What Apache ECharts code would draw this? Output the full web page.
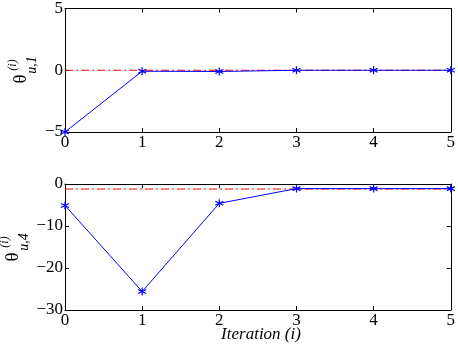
<!DOCTYPE html>
<html><head><meta charset="utf-8">
<script src="https://cdn.jsdelivr.net/npm/echarts@6/dist/echarts.min.js"></script>
<style>html,body{margin:0;padding:0;background:#fff}#c{width:458px;height:348px}</style>
</head><body><div id="c"></div>
<script>
const iterations = [0, 1, 2, 3, 4, 5];
const thetaU1 = [-5, -0.08, -0.1, 0, 0, 0];
const thetaU4 = [-5.1, -25.6, -4.6, -1.1, -1.1, -1.1];
const refU1 = 0;
const refU4 = -1.2;
const xTicks = {min: 0, max: 5, interval: 1};
const yTicksTop = {min: -5, max: 5, interval: 5};
const yTicksBot = {min: -30, max: 0, interval: 10};

const font = 'Liberation Serif';
const fmt = v => String(v).replace('-', '\u2212');
const star = 'path://M0,-4L0,4M-3.5,-2L3.5,2M-3.5,2L3.5,-2';
const lbl = labels => ({show: labels, color: '#000', fontFamily: font, fontSize: 17, margin: 2, formatter: fmt});

function xAx(grid, pos, labels) {
  return {type: 'value', gridIndex: grid, position: pos, min: xTicks.min, max: xTicks.max, interval: xTicks.interval,
    axisLine: {show: true, onZero: false, lineStyle: {color: '#000', width: 1}},
    axisTick: {show: true, inside: true, length: 4, lineStyle: {color: '#000'}},
    axisLabel: lbl(labels), splitLine: {show: false}};
}
function yAx(grid, pos, t, labels) {
  return {type: 'value', gridIndex: grid, position: pos, min: t.min, max: t.max, interval: t.interval,
    axisLine: {show: true, onZero: false, lineStyle: {color: '#000', width: 1}},
    axisTick: {show: true, inside: true, length: 4, lineStyle: {color: '#000'}},
    axisLabel: lbl(labels), splitLine: {show: false}};
}
function pts(arr) { return iterations.map((x, i) => [x, arr[i]]); }
function refPts(v) { return iterations.map(x => [x, v]); }
function rt(text, x, y, f) {
  return {type: 'text', x: x, y: y, rotation: Math.PI / 2,
    style: {text: text, font: f, fill: '#000', textAlign: 'center', textVerticalAlign: 'middle'}};
}
const thF = "19px 'Liberation Serif'", supF = "italic 12px 'Liberation Serif'", subF = "italic 14px 'Liberation Serif'";

const chart = echarts.init(document.getElementById('c'));
chart.setOption({
  animation: false,
  textStyle: {fontFamily: font},
  grid: [
    {left: 65, right: 4, top: 7, height: 125},
    {left: 65, right: 4, top: 184, height: 126}
  ],
  xAxis: [xAx(0, 'bottom', true), xAx(0, 'top', false), xAx(1, 'bottom', true), xAx(1, 'top', false)],
  yAxis: [yAx(0, 'left', yTicksTop, true), yAx(0, 'right', yTicksTop, false), yAx(1, 'left', yTicksBot, true), yAx(1, 'right', yTicksBot, false)],
  series: [
    {type: 'line', xAxisIndex: 0, yAxisIndex: 0, data: refPts(refU1), symbol: 'none',
      lineStyle: {color: '#f00', width: 1, type: [8, 3, 2, 3]}},
    {type: 'line', xAxisIndex: 0, yAxisIndex: 0, data: pts(thetaU1), symbol: star, symbolSize: 8,
      lineStyle: {color: '#00f', width: 1}, itemStyle: {color: 'none', borderColor: '#00f', borderWidth: 1.2}},
    {type: 'line', xAxisIndex: 2, yAxisIndex: 2, data: refPts(refU4), symbol: 'none',
      lineStyle: {color: '#f00', width: 1, type: [8, 3, 2, 3]}},
    {type: 'line', xAxisIndex: 2, yAxisIndex: 2, data: pts(thetaU4), symbol: star, symbolSize: 8,
      lineStyle: {color: '#00f', width: 1}, itemStyle: {color: 'none', borderColor: '#00f', borderWidth: 1.2}}
  ],
  graphic: [
    rt('\u03b8', 21, 79, thF), rt('(i)', 13, 65, supF), rt('u,1', 32, 65, subF),
    rt('\u03b8', 13, 257, thF), rt('(i)', 5, 242, supF), rt('u,4', 24, 242, subF),
    {type: 'text', x: 261, y: 335, style: {text: 'Iteration (i)', font: "italic 17px 'Liberation Serif'", fill: '#000', textAlign: 'center', textVerticalAlign: 'middle'}}
  ]
});
</script></body></html>
